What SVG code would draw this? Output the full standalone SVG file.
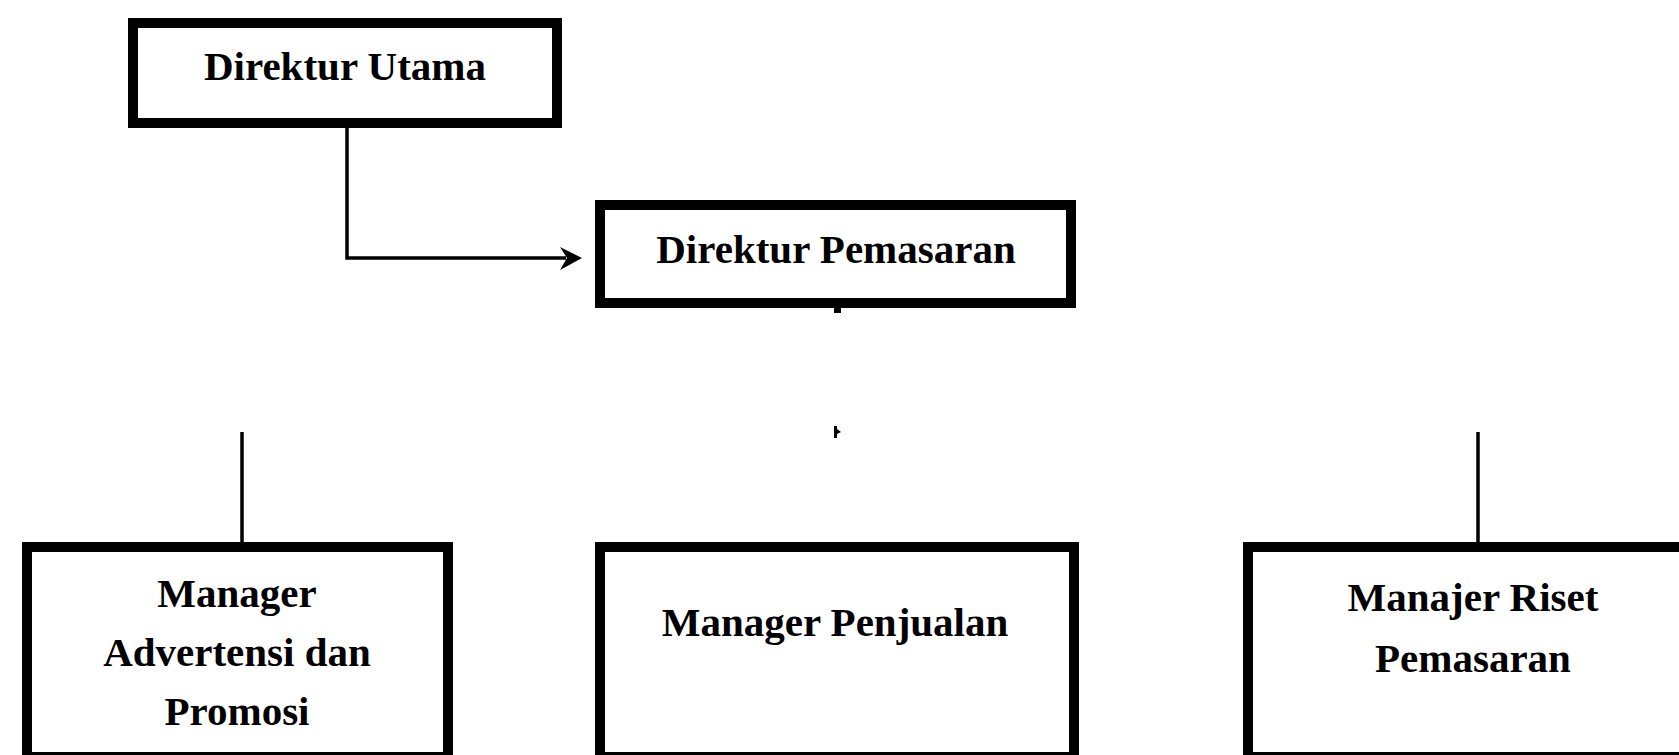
<svg xmlns="http://www.w3.org/2000/svg" width="1679" height="755" viewBox="0 0 1679 755">
  <style>
    .box { fill: #ffffff; stroke: #000000; stroke-width: 10; }
    .lbl { font-family: "Liberation Serif", "Times New Roman", serif; font-size: 41px; font-weight: bold; fill: #000000; text-anchor: middle; }
    .line { fill: none; stroke: #000000; stroke-width: 3.5; }
  </style>
  <rect x="0" y="0" width="1679" height="755" fill="#ffffff"/>
  <g id="connectors">
    <path class="line" d="M347 128 V258 H566"/>
    <polygon points="560,247 582,258 560,270 567,258" fill="#000000"/>
    <rect x="834" y="308" width="7" height="5" fill="#000000"/>
    <path d="M834 426 V438 H837 V434 L841 432 L837 429 V426 Z" fill="#000000"/>
    <line class="line" x1="242" y1="432" x2="242" y2="542"/>
    <line class="line" x1="1478" y1="432" x2="1478" y2="542"/>
  </g>
  <g id="direktur-utama">
    <rect class="box" x="133" y="23" width="424" height="100"/>
    <text class="lbl" x="345" y="80">Direktur Utama</text>
  </g>
  <g id="direktur-pemasaran">
    <rect class="box" x="600" y="205" width="471" height="98"/>
    <text class="lbl" x="836" y="263">Direktur Pemasaran</text>
  </g>
  <g id="manager-advertensi">
    <rect class="box" x="27" y="547" width="421" height="210"/>
    <text class="lbl" x="237" y="607">Manager</text>
    <text class="lbl" x="237" y="666">Advertensi dan</text>
    <text class="lbl" x="237" y="725">Promosi</text>
  </g>
  <g id="manager-penjualan">
    <rect class="box" x="600" y="547" width="474" height="210"/>
    <text class="lbl" x="835" y="636">Manager Penjualan</text>
  </g>
  <g id="manajer-riset">
    <rect class="box" x="1248" y="547" width="520" height="210"/>
    <text class="lbl" x="1473" y="611">Manajer Riset</text>
    <text class="lbl" x="1473" y="672">Pemasaran</text>
  </g>
</svg>
